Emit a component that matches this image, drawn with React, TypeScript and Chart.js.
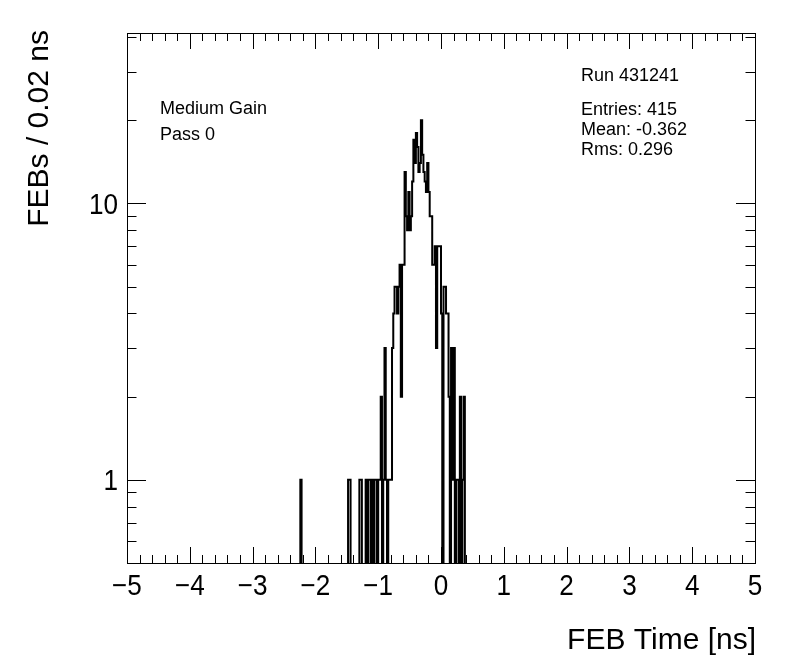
import React, { useEffect, useRef } from 'react';
import { Chart, registerables } from 'chart.js';

Chart.register(...registerables);

// ---- data -------------------------------------------------------------
const xRangeMin = -5;
const xRangeMax = 5;
const binWidth = 0.02;

// isolated low-side entries (bin low edges, ns) and their counts
const tailBinEdges = [-2.24, -1.48, -1.46, -1.3, -1.28];
const tailCounts = [1, 1, 1, 1, 1];

// contiguous core of the distribution, starting at this bin low edge
const coreStartEdge = -1.2;
const coreCounts = [
  1, 0, 1, 1, 0, 1, 0, 1, 1, 0, // -1.20 .. -1.02
  1, 1, 2, 0, 1, 3, 1, 0, 1, 1, // -1.00 .. -0.82
  1, 3, 4, 5, 5, 4, 5, 6, 2, 6, // -0.80 .. -0.62
  6, 13, 9, 8, 11, 8, 9, 12, 17, 14, // -0.60 .. -0.42
  18, 16, 13, 14, 20, 15, 13, 12, 11, 14, // -0.40 .. -0.22
  11, 9, 9, 6, 6, 7, 3, 7, 7, 7, // -0.20 .. -0.02
  4, 0, 5, 5, 4, 4, 2, 0, 3, 1, // 0.00 .. 0.18
  3, 0, 1, 1, 0, 2, 0, 1, 2, 0, // 0.20 .. 0.38
];

const yAxisMin = 0.5;
const yAxisMax = 41.4;

const xTickLabels = [-5, -4, -3, -2, -1, 0, 1, 2, 3, 4, 5];
const yTickLabels = [1, 10];
const yMinorTicks = [0.6, 0.7, 0.8, 0.9, 2, 3, 4, 5, 6, 7, 8, 9, 20, 30, 40];

const xTitle = 'FEB Time [ns]';
const yTitle = 'FEBs / 0.02 ns';
const infoLines = ['Medium Gain', 'Pass 0'];
const runLine = 'Run 431241';
const statsLines = ['Entries: 415', 'Mean: -0.362', 'Rms: 0.296'];

// ---- helpers ------------------------------------------------------------
const FONT = "'Liberation Sans', Arial, Helvetica, sans-serif";
const nBins = Math.round((xRangeMax - xRangeMin) / binWidth);

function buildCounts(): number[] {
  const counts = new Array(nBins).fill(0);
  tailBinEdges.forEach((e, k) => {
    counts[Math.round((e - xRangeMin) / binWidth)] += tailCounts[k];
  });
  const s = Math.round((coreStartEdge - xRangeMin) / binWidth);
  coreCounts.forEach((c, k) => {
    counts[s + k] += c;
  });
  return counts;
}

function buildPoints() {
  const counts = buildCounts();
  const below = yAxisMin / 10; // empty bins drop below the frame (clipped)
  const pts = counts.map((c, i) => ({
    x: xRangeMin + i * binWidth,
    y: c > 0 ? c : below,
  }));
  const last = counts[counts.length - 1];
  pts.push({ x: xRangeMax, y: last > 0 ? last : below });
  return pts;
}

const minusify = (v: number) => (v < 0 ? '\u2212' + Math.abs(v) : String(v));

function narrowText(ctx: CanvasRenderingContext2D, s: string, x: number, y: number, sx: number) {
  ctx.save();
  ctx.translate(x, y);
  ctx.scale(sx, 1);
  ctx.fillText(s, 0, 0);
  ctx.restore();
}

const rootAxesPlugin = {
  id: 'rootAxes',
  afterDraw(chart: any) {
    const { ctx, chartArea } = chart;
    const xs = chart.scales.x;
    const ys = chart.scales.y;
    const { left, right, top, bottom } = chartArea;
    ctx.save();
    ctx.strokeStyle = '#000';
    ctx.fillStyle = '#000';
    ctx.lineWidth = 1;

    // frame
    ctx.strokeRect(Math.round(left) + 0.5, Math.round(top) + 0.5,
      Math.round(right - left), Math.round(bottom - top));

    // x ticks (major every 1, minor every 0.2), bottom and top, inside
    ctx.beginPath();
    for (let k = 0; k <= 50; k++) {
      const v = xRangeMin + k * 0.2;
      const px = Math.round(xs.getPixelForValue(v)) + 0.5;
      const len = k % 5 === 0 ? 16 : 8;
      ctx.moveTo(px, bottom);
      ctx.lineTo(px, bottom - len);
      ctx.moveTo(px, top);
      ctx.lineTo(px, top + len);
    }
    // y ticks, left and right, inside
    const yt = (v: number, len: number) => {
      const py = Math.round(ys.getPixelForValue(v)) + 0.5;
      ctx.moveTo(left, py);
      ctx.lineTo(left + len, py);
      ctx.moveTo(right, py);
      ctx.lineTo(right - len, py);
    };
    yTickLabels.forEach((v) => yt(v, 19));
    yMinorTicks.forEach((v) => yt(v, 9.5));
    ctx.stroke();

    // tick labels
    ctx.font = `29px ${FONT}`;
    ctx.textBaseline = 'alphabetic';
    ctx.textAlign = 'center';
    xTickLabels.forEach((v) => {
      narrowText(ctx, minusify(v), xs.getPixelForValue(v), 595, 0.9);
    });
    ctx.textAlign = 'right';
    yTickLabels.forEach((v) => {
      narrowText(ctx, String(v), left - 9, ys.getPixelForValue(v) + 10.5, 0.9);
    });

    // axis titles
    ctx.font = `30px ${FONT}`;
    ctx.textAlign = 'right';
    ctx.fillText(xTitle, right + 1, 649);
    ctx.save();
    ctx.translate(48, top - 3);
    ctx.rotate(-Math.PI / 2);
    ctx.textAlign = 'right';
    ctx.fillText(yTitle, 0, 0);
    ctx.restore();

    // annotations
    ctx.font = `18px ${FONT}`;
    ctx.textAlign = 'left';
    ctx.fillText(infoLines[0], 160, 114);
    ctx.fillText(infoLines[1], 160, 140);
    ctx.fillText(runLine, 581, 81);
    statsLines.forEach((s, k) => ctx.fillText(s, 581, 115 + k * 20));
    ctx.restore();
  },
};

export default function App() {
  const ref = useRef<HTMLCanvasElement | null>(null);
  useEffect(() => {
    if (!ref.current) return;
    const chart = new Chart(ref.current, {
      type: 'line',
      data: {
        datasets: [
          {
            data: buildPoints(),
            borderColor: '#000',
            borderWidth: 2,
            stepped: true,
            pointRadius: 0,
            fill: false,
            tension: 0,
          },
        ],
      },
      options: {
        animation: false,
        responsive: false,
        maintainAspectRatio: false,
        devicePixelRatio: 1,
        events: [],
        layout: { padding: { left: 127, top: 33, right: 41, bottom: 109 } },
        scales: {
          x: { type: 'linear', min: xRangeMin, max: xRangeMax, display: false },
          y: { type: 'logarithmic', min: yAxisMin, max: yAxisMax, display: false },
        },
        plugins: {
          legend: { display: false },
          tooltip: { enabled: false },
        },
      },
      plugins: [rootAxesPlugin],
    } as any);
    return () => chart.destroy();
  }, []);
  return (
    <canvas
      ref={ref}
      width={796}
      height={672}
      style={{ position: 'absolute', left: 0, top: 0, width: 796, height: 672, background: '#fff' }}
    />
  );
}
